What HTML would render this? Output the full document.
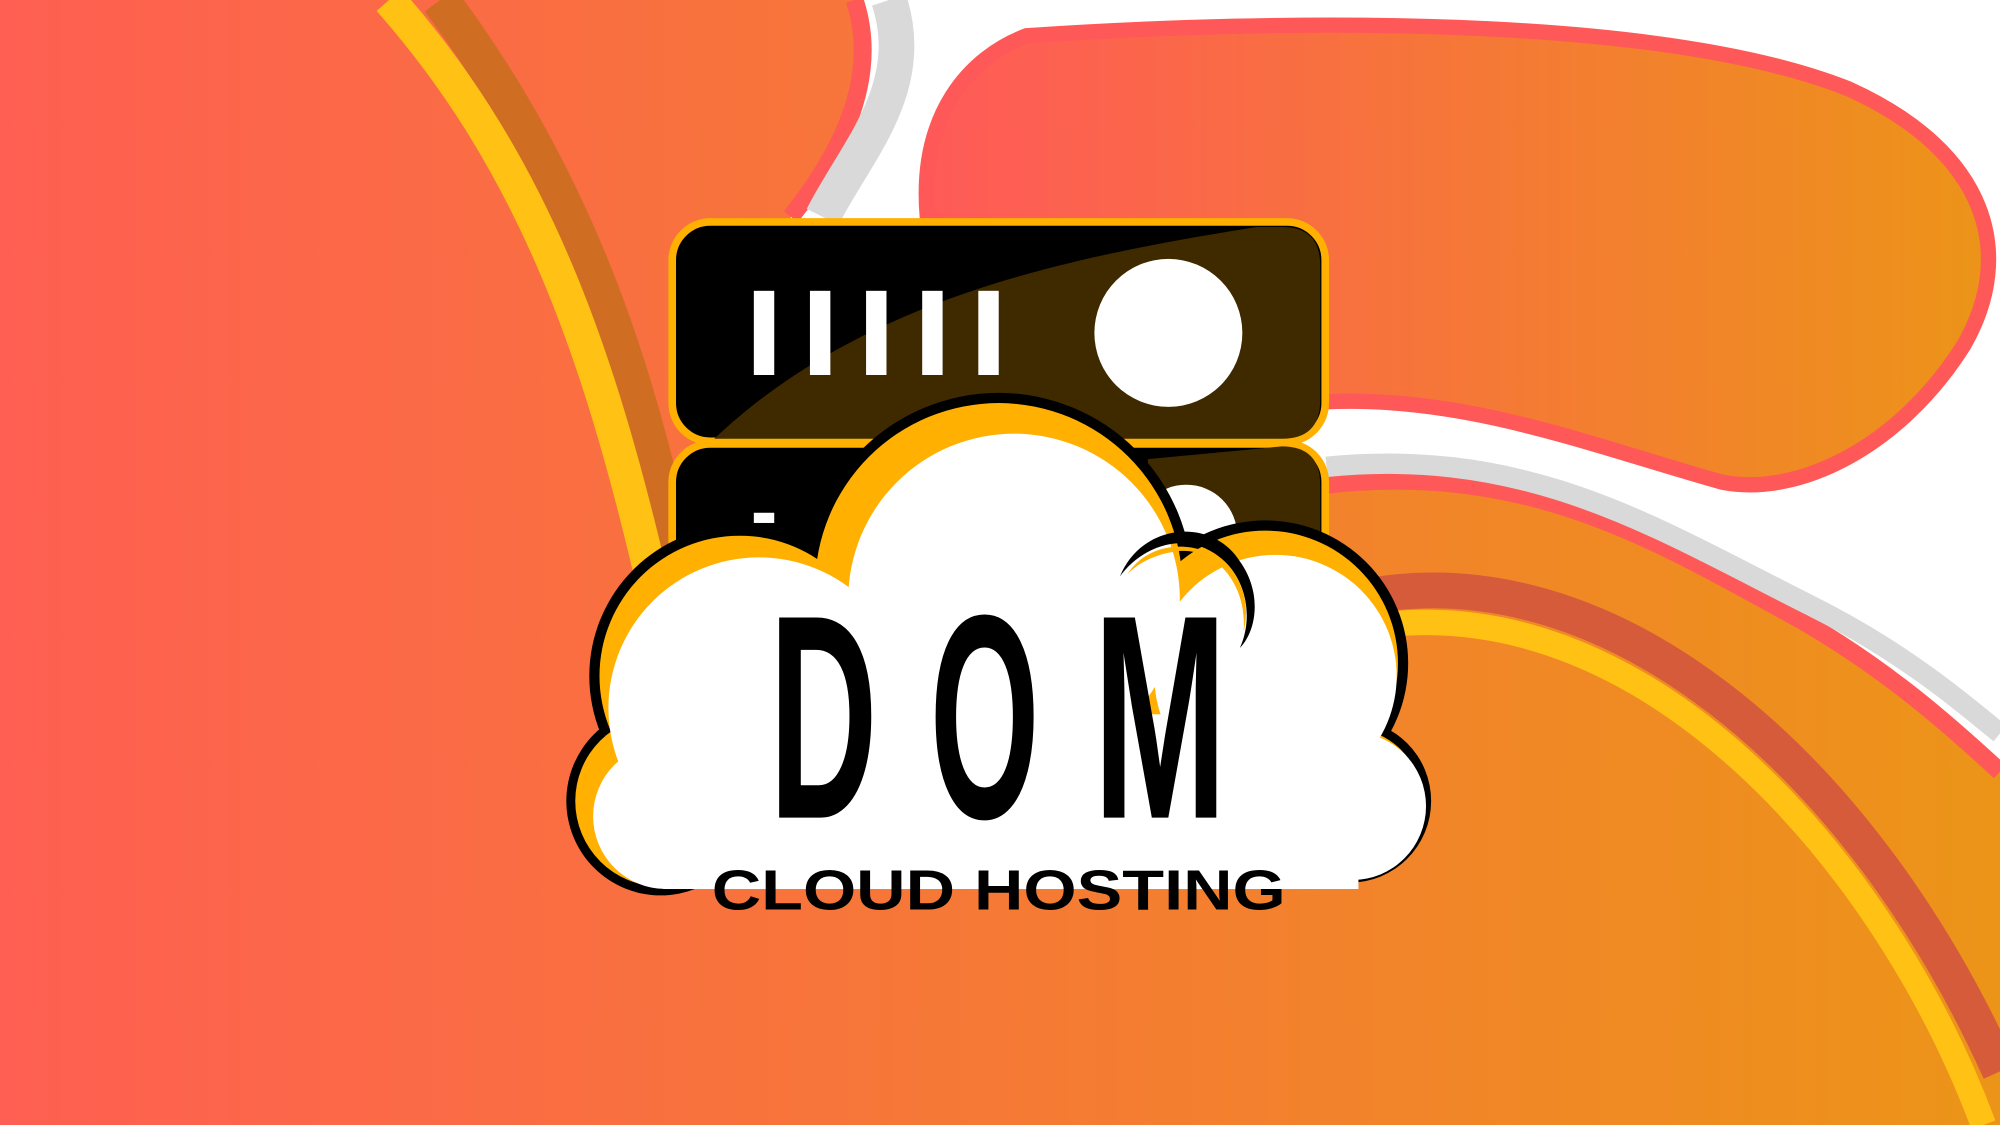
<!DOCTYPE html>
<html><head><meta charset="utf-8"><style>
html,body{margin:0;padding:0;background:#fff;}
svg{display:block;}
</style></head><body>
<svg width="2000" height="1125" viewBox="0 0 1568 882" preserveAspectRatio="none" xmlns="http://www.w3.org/2000/svg">
<defs>
<linearGradient id="g1" x1="0" y1="0" x2="1" y2="0">
<stop offset="0" stop-color="#ff5f52"/><stop offset="1" stop-color="#ec9418"/>
</linearGradient>
<linearGradient id="g2" x1="0" y1="0" x2="1" y2="0">
<stop offset="0" stop-color="#ff5a58"/><stop offset="1" stop-color="#ec9418"/>
</linearGradient>
</defs>
<rect width="1568" height="882" fill="#fff"/>
<path d="M805,28 C1000,15 1300,10 1450,70 C1560,120 1580,200 1540,270 C1490,350 1410,390 1350,378 C1250,350 1150,310 1040,315 L727,170 C720,90 760,45 805,28 Z" fill="url(#g2)" stroke="#ff5858" stroke-width="12"/>
<path d="M0,0 L670,0 C690,60 660,120 620,170 L620,420 L1040,380 C1200,362 1300,425 1410,485 C1480,525 1530,570 1568,605 L1568,882 L0,882 Z" fill="url(#g1)"/>
<path d="M1040,380 C1200,362 1300,425 1410,485 C1480,525 1530,570 1568,605" fill="none" stroke="#ff5858" stroke-width="14"/>
<path d="M1040,366 C1200,350 1300,415 1420,475 C1490,510 1535,548 1568,575" fill="none" stroke="#d9d9d9" stroke-width="16"/>
<path d="M670,0 C690,60 660,120 620,170" fill="none" stroke="#ff5858" stroke-width="14"/>
<path d="M697,0 C720,70 670,120 645,170" fill="none" stroke="#d9d9d9" stroke-width="28"/>
<path d="M345,0 C450,140 500,290 530,440" fill="none" stroke="#cf6e22" stroke-width="30"/>
<path d="M305,0 C420,130 470,280 510,450" fill="none" stroke="#ffc113" stroke-width="26"/>
<path d="M1060,470 C1260,425 1460,600 1568,840" fill="none" stroke="#d55b3a" stroke-width="28"/>
<path d="M1070,492 C1290,455 1480,680 1555,882" fill="none" stroke="#ffc113" stroke-width="20"/>
<rect x="527" y="174" width="512" height="172" rx="30" fill="#000" stroke="#ffb000" stroke-width="6"/>
<path d="M560,344 C680,230 850,200 985,178 L1005,178 Q1035,178 1035,208 L1035,314 Q1035,344 1005,344 Z" fill="#3f2a00"/>
<g fill="#fff"><rect x="591" y="228" width="16" height="66"/><rect x="635" y="228" width="16" height="66"/><rect x="679" y="228" width="16" height="66"/><rect x="723" y="228" width="16" height="66"/><rect x="767" y="228" width="16" height="66"/></g>
<circle cx="916" cy="261" r="58" fill="#fff"/>
<rect x="527" y="348" width="512" height="150" rx="30" fill="#000" stroke="#ffb000" stroke-width="6"/>
<path d="M900,360 L1005,350 Q1035,350 1035,380 L1035,495 L900,495 Z" fill="#3f2a00"/>
<rect x="591" y="402" width="16" height="8" fill="#fff"/>
<circle cx="930" cy="420" r="40" fill="#fff"/>
<g fill="#000">
<circle cx="783" cy="460" r="152"/>
<circle cx="580" cy="530" r="118"/>
<circle cx="992" cy="520" r="112"/>
<circle cx="518" cy="628" r="74"/>
<circle cx="1058" cy="628" r="64"/>
<rect x="520" y="540" width="540" height="140"/>
</g>
<g fill="#ffb000">
<circle cx="783" cy="460" r="144"/>
<circle cx="580" cy="530" r="110"/>
<circle cx="992" cy="520" r="104"/>
<circle cx="518" cy="628" r="67"/>
<circle cx="1058" cy="628" r="57"/>
<rect x="520" y="540" width="540" height="145"/>
</g>
<g fill="#fff">
<circle cx="795" cy="470" r="130"/>
<circle cx="595" cy="555" r="118"/>
<circle cx="1000" cy="530" r="95"/>
<circle cx="522" cy="640" r="57"/>
<circle cx="1060" cy="632" r="58"/>
<rect x="520" y="560" width="545" height="137"/>
</g>
<path d="M878,452 C895,410 950,405 972,440 C990,465 985,495 972,508 C985,480 975,440 940,428 C915,420 890,435 878,452 Z" fill="#000"/>
<path d="M884,450 C900,425 935,422 960,440 C975,455 980,475 975,495 C978,460 955,430 925,432 C905,434 892,442 884,450 Z" fill="#ffb000"/>
<g font-family="Liberation Sans, sans-serif" font-weight="bold" font-size="228" fill="#000">
<text x="603" y="641" textLength="85" lengthAdjust="spacingAndGlyphs">D</text>
<text x="729" y="641" textLength="86" lengthAdjust="spacingAndGlyphs">O</text>
<text x="857" y="641" textLength="105" lengthAdjust="spacingAndGlyphs">M</text>
</g>
<text x="558" y="713" font-family="Liberation Sans, sans-serif" font-weight="bold" font-size="44" textLength="450" lengthAdjust="spacingAndGlyphs" fill="#000">CLOUD HOSTING</text>
</svg>
</body></html>
